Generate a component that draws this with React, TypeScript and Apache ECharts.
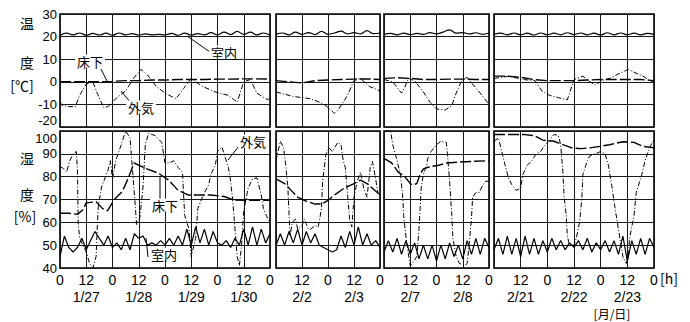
import React, { useEffect, useRef } from 'react';
import * as echarts from 'echarts';

const FONT = '"Noto Sans CJK JP", "Noto Sans", sans-serif';
const NUMFONT = '"Liberation Sans", Arial, sans-serif';

// ---- categories ----
const segDays = [
  ['1/27', '1/28', '1/29', '1/30'],
  ['2/2', '2/3'],
  ['2/7', '2/8'],
  ['2/21', '2/22', '2/23'],
];

// ---- temperature (°C) ----
// indoor, every 3 h
const tempIn1 = [20.5, 21.5, 20.8, 21.6, 20.6, 21.4, 20.7, 21.5, 20.6, 21.6, 20.8, 21.3, 20.7, 21.2, 20.8, 21.0, 20.8, 21.4, 20.6, 21.5, 20.7, 21.3, 20.8, 21.8, 20.8, 22.0, 20.9, 22.3, 21.0, 22.0, 20.8, 21.6, 20.6];
const tempIn2 = [21.0, 21.6, 20.8, 22.0, 21.0, 21.8, 20.9, 22.3, 21.0, 21.6, 22.4, 21.2, 21.8, 21.2, 22.6, 21.3, 21.6];
const tempIn3 = [21.0, 21.4, 20.8, 21.5, 20.9, 21.4, 21.0, 21.8, 21.2, 22.0, 23.0, 21.5, 21.8, 21.2, 21.7, 21.0, 21.6];
const tempIn4 = [21.0, 21.5, 20.8, 21.6, 20.8, 21.5, 20.7, 21.6, 20.8, 21.5, 20.8, 21.7, 20.9, 21.6, 20.8, 21.5, 20.7, 21.7, 20.8, 21.6, 20.8, 21.5, 20.8, 21.4, 20.9];
// underfloor, every 6 h
const tempFloor1 = [0, 0, 0, 0, 0.2, 0.5, 0.5, 0.8, 0.8, 1, 1, 1, 1.2, 1.2, 1.3, 1.3, 1.2];
const tempFloor2 = [0.5, 0, -0.5, 0.5, 0.8, 1, 1.2, 1.3, 1.0];
const tempFloor3 = [1.5, 1.8, 1.5, 1.0, 1.0, 1.2, 1.2, 1.0, 1.0];
const tempFloor4 = [2.5, 2.5, 2, 1, 0.5, 0.5, 0.5, 0.8, 1, 1, 1, 1, 0.5];
// outside, [hour, value]
const tempOut1 = [[0, -9], [1, -10.5], [4, -11], [7, -11], [9, -6], [12, -1], [15, 0], [17, -5], [20, -11.5], [22, -11], [24, -9], [26, -7], [30, -4], [34, 2], [37, 5.5], [40, 3], [44, -2], [48, -5], [53, -7.5], [56.5, -3], [60, 1.5], [65, -2], [71, -4.5], [77, -6], [81, -9], [84, 0], [87, 1], [90, -5], [95, -8], [96, -7]];
const tempOut2 = [[0, -4.5], [4, -5.5], [8, -6.5], [12, -7], [16, -7.5], [20, -9], [23, -10.5], [27, -14], [29, -12], [33, -6], [36, 0.5], [39, 1.5], [43, -2], [48, -4]];
const tempOut3 = [[0, 1], [4, 0], [8, -5], [9.5, -2.5], [11, 1.5], [14, 0.5], [18, -4.5], [21, -9], [24, -12], [28, -12.5], [31, -10.5], [33, -5], [35.5, 0.5], [38, 2], [40.5, -1], [44, -5], [48, -10]];
const tempOut4 = [[0, 1.5], [7, 2.5], [13, 1], [18.5, 0.5], [21.5, -4], [25, -6], [29, -7], [33, -8], [34, -5], [36, 1], [40, 2.5], [42.5, 0.5], [45.5, -1.5], [48.5, 0.5], [52, 1.5], [56, 3.5], [60.5, 5.5], [63.5, 4], [67, 2.5], [71, 0], [72, 0]];

// ---- humidity (%) ----
// indoor, every 2 h
const humIn1 = [45, 54, 49, 47, 49, 53, 48, 52, 56, 53, 50, 54, 49, 51, 48, 53, 48, 55, 53, 54, 50, 51, 50, 52, 50, 53, 50, 54, 50, 57, 50, 58, 51, 57, 50, 56, 51, 50, 52, 49, 53, 50, 57, 50, 58, 50, 57, 51, 55];
const humIn2 = [50, 55, 50, 56, 51, 57, 50, 56, 51, 55, 50, 49, 48, 47, 48, 54, 49, 56, 50, 58, 50, 55, 50, 52, 49];
const humIn3 = [47, 52, 47, 53, 46, 52, 46, 51, 44, 50, 44, 50, 43, 50, 44, 51, 45, 50, 44, 52, 46, 53, 46, 53, 49];
const humIn4 = [48, 53, 46, 54, 46, 53, 45, 54, 46, 53, 46, 52, 47, 53, 48, 52, 48, 51, 49, 52, 48, 53, 47, 51, 48, 52, 47, 52, 46, 54, 43, 52, 46, 53, 46, 53, 49];
// underfloor, [hour, value]
const humFloor1 = [[0, 64], [4, 64], [8, 63.5], [10.5, 65.5], [12, 68.5], [16.5, 69], [19.5, 66], [21.7, 65], [24.8, 70], [28.5, 73.5], [31.5, 80], [33.8, 86], [36, 85], [39, 83.7], [45, 81.5], [49.5, 78.6], [54, 74], [58.5, 72], [63, 72], [69, 72], [75, 71.3], [79.6, 69.8], [87, 69.6], [96, 69.6]];
const humFloor2 = [[0, 79], [4, 77], [7, 74], [10, 71], [13, 69.6], [18, 68], [21, 68], [24, 69.6], [27, 72], [31.5, 75], [36, 77], [39, 78.5], [42, 77], [46.5, 73.3], [48, 72]];
const humFloor3 = [[0, 88], [3.5, 86], [6.5, 82], [9.5, 80], [12, 77], [13, 76.3], [15, 77], [16.5, 81], [18, 83.4], [21, 84.4], [25, 85], [28.5, 86], [34.5, 86.4], [40.5, 86.7], [48, 87]];
const humFloor4 = [[0, 98.5], [7, 98.5], [13, 98.5], [18, 98], [22, 96], [27, 95.5], [31, 94], [35, 92.6], [39, 92.3], [43, 92.6], [48, 93.3], [52, 94], [58, 95.3], [63, 95], [67, 93.3], [72, 92.6]];
// outside, [hour, value]
const humOut1 = [[0, 84], [1, 84], [3, 82], [4.5, 87], [6, 90], [7.5, 91], [8, 82], [8.3, 60], [9, 53], [10.5, 50], [12, 47], [13.5, 42], [15, 40], [16.5, 45], [17, 57], [17.5, 67], [19, 75.5], [20, 78], [22, 83], [23, 87], [24, 79], [25.5, 87], [28, 94], [30, 100], [32, 97], [33, 85], [34.5, 66], [35, 59], [36.5, 62], [38, 76], [39, 94], [40.5, 99], [43.5, 98], [46.5, 95], [48, 86], [50, 86], [52, 87], [54, 84], [56, 82], [56.5, 72], [57, 63], [59, 57], [59.5, 51], [60, 45], [62, 53], [63, 66], [65.5, 72], [68, 76.5], [69, 81], [71, 85], [72, 91], [74, 93], [75, 90], [77, 84], [78, 78], [79, 69], [80, 57], [81, 45], [82, 41], [83, 50], [84, 65], [86, 75], [88, 79], [90, 79.5], [92, 72], [93, 66], [95, 61.5], [96, 60]];
const humOut2 = [[0, 87], [2, 95.5], [3.5, 92.6], [4.5, 85], [5.5, 75], [6, 64], [6.5, 54], [7.5, 60], [9, 61.5], [10, 57], [12, 58.5], [13, 61.5], [15, 57], [16, 57], [18, 58.5], [19.5, 58], [21, 66], [21.5, 77.8], [23, 89.6], [24.5, 92.6], [26, 91], [28.5, 95], [30, 94], [31, 87], [32, 84], [33, 72.6], [34, 61], [35, 58], [36, 71], [37.5, 78], [39, 82], [40.5, 75], [42, 71], [43.5, 84], [44.5, 86.7], [46, 79], [47, 73], [48, 72]];
const humOut3 = [[0, 100], [3, 100], [4, 94], [6, 87], [7.5, 81], [8.5, 72], [9, 63], [10, 54], [11, 47], [12, 41], [13, 42], [15, 45], [16, 57], [16.5, 66], [17, 75], [18, 81], [19.5, 85], [20, 88], [21.5, 91], [24, 94], [26, 95.5], [28.5, 95], [29, 90], [30, 78], [31, 63], [31.5, 53], [33, 45], [34.5, 42], [37, 41], [38, 42], [39, 51], [40, 62], [40.5, 71], [42, 73], [43.5, 73], [45, 76], [46.5, 78], [48, 78]];
const humOut4 = [[0, 95.5], [2, 97], [3.5, 91], [5, 85], [6.5, 79.5], [8, 76.5], [10, 74], [12, 75], [13, 81], [15, 85], [17, 87], [19, 90], [21, 91], [22, 92.6], [24.5, 95.5], [27, 98.5], [29, 98], [30, 94], [31, 82], [31.5, 72], [32.5, 63], [33, 54], [34, 50], [36, 50], [37, 53], [38.5, 60], [39.5, 70], [40, 81], [42, 87], [43, 89], [45.5, 90], [48, 91], [50, 90], [51.5, 85], [53, 76], [54.5, 66], [56, 57], [57, 51], [58, 45], [59.5, 42], [60.5, 45], [61, 53], [63, 63], [64, 73], [66.5, 81], [68, 87], [70, 92.6], [71.5, 95.5], [72, 96]];

const tempRange = [-20, 30];
const humRange = [40, 100];

const tempInAll = [tempIn1, tempIn2, tempIn3, tempIn4];
const tempFloorAll = [tempFloor1, tempFloor2, tempFloor3, tempFloor4];
const tempOutAll = [tempOut1, tempOut2, tempOut3, tempOut4];
const humInAll = [humIn1, humIn2, humIn3, humIn4];
const humFloorAll = [humFloor1, humFloor2, humFloor3, humFloor4];
const humOutAll = [humOut1, humOut2, humOut3, humOut4];

const stepped = (vals: number[], step: number) => vals.map((v, i) => [i * step, v]);

export default function App() {
  const ref = useRef<HTMLDivElement>(null);
  useEffect(() => {
    if (!ref.current) return;
    const chart = echarts.init(ref.current, null, { renderer: 'svg' });

    const segLeft = [60, 276, 384, 494];
    const segWidth = [210, 104, 105, 160];
    const topY = 14, topH = 113, botY = 131, botH = 137;

    const grids: any[] = [];
    const xAxes: any[] = [];
    const yAxes: any[] = [];
    const series: any[] = [];
    const grid = '#1a1a1a';

    const inStyle = { color: '#000', width: 1.2, type: 'solid' };
    const floorStyle = { color: '#000', width: 1.4, type: [11, 3] };
    const outStyle = { color: '#000', width: 1, type: [5, 2, 1, 2] };

    for (let panel = 0; panel < 2; panel++) {
      for (let s = 0; s < 4; s++) {
        const gi = panel * 4 + s;
        const hours = segDays[s].length * 24;
        grids.push({
          left: segLeft[s], width: segWidth[s],
          top: panel === 0 ? topY : botY, height: panel === 0 ? topH : botH,
          show: true, borderColor: '#000', borderWidth: 1.6, backgroundColor: 'transparent',
        });
        xAxes.push({
          type: 'value', gridIndex: gi, min: 0, max: hours, interval: 12,
          axisLine: { show: false }, axisTick: { show: false },
          splitLine: { show: true, lineStyle: { color: grid, width: 1 } },
          axisLabel: panel === 1 ? {
            show: true, margin: 3, color: '#000', fontFamily: NUMFONT, fontSize: 14, lineHeight: 17,
            showMinLabel: s === 0, showMaxLabel: true,
            formatter: (v: number) => {
              if (v % 24 === 12) return '12\n' + segDays[s][Math.floor(v / 24)];
              return '0';
            },
          } : { show: false },
        });
        const rng = panel === 0 ? tempRange : humRange;
        yAxes.push({
          type: 'value', gridIndex: gi, min: rng[0], max: rng[1], interval: 10,
          axisLine: { show: false }, axisTick: { show: false },
          splitLine: { show: true, lineStyle: { color: grid, width: 1 } },
          axisLabel: s === 0 ? {
            show: true, margin: 3, color: '#000', fontFamily: NUMFONT, fontSize: 13, lineHeight: 13,
            // the two labels where the panels meet are drawn as graphics below, nudged apart
            formatter: (v: number) => (panel === 0 && v === rng[0]) || (panel === 1 && v === rng[1]) ? '' : String(v),
          } : { show: false },
        });
        const common = { type: 'line', xAxisIndex: gi, yAxisIndex: gi, symbol: 'none', showSymbol: false, silent: true };
        if (panel === 0) {
          series.push({ ...common, data: stepped(tempInAll[s], 3), smooth: 0.4, lineStyle: inStyle });
          series.push({ ...common, data: stepped(tempFloorAll[s], 6), lineStyle: floorStyle });
          series.push({ ...common, data: tempOutAll[s], lineStyle: outStyle });
        } else {
          series.push({ ...common, data: stepped(humInAll[s], 2), lineStyle: inStyle });
          series.push({ ...common, data: humFloorAll[s], lineStyle: floorStyle });
          series.push({ ...common, data: humOutAll[s], lineStyle: outStyle });
        }
      }
    }

    const txt = (text: string, x: number, y: number, size = 14, bg = false, align = 'center', family = FONT) => ({
      type: 'text', x, y, z: 100,
      style: {
        text, fill: '#000', font: `${size}px ${family}`, lineHeight: size,
        align, verticalAlign: 'middle', textAlign: align, textVerticalAlign: 'middle',
        backgroundColor: bg ? '#fff' : undefined, padding: bg ? [0, 2] : undefined,
      },
    });
    const ln = (x1: number, y1: number, x2: number, y2: number) => ({
      type: 'line', z: 99, shape: { x1, y1, x2, y2 }, style: { stroke: '#000', lineWidth: 1 },
    });

    const elements = [
      txt(String(tempRange[0]), 57, 120.5, 13, false, 'right', NUMFONT),
      txt(String(humRange[1]), 57, 138, 13, false, 'right', NUMFONT),
      txt('温', 27, 23), txt('度', 27, 62), txt('[℃]', 22, 85),
      txt('湿', 27, 158), txt('度', 27, 194), txt('[%]', 25, 216),
      txt('[h]', 669, 278), txt('[月/日]', 612, 313, 12),
      ln(187, 36, 210, 52), txt('室内', 224, 52, 13, true),
      ln(101, 69, 107, 81), txt('床下', 90, 61, 13, true),
      ln(121, 91, 131, 103), txt('外気', 141, 107, 13, true),
      ln(228, 160, 239, 146), txt('外気', 253, 141, 13, true),
      ln(160, 199, 160, 176), txt('床下', 165, 205, 13, true),
      ln(148, 257, 146, 238), txt('室内', 164, 254, 13, true),
    ];

    chart.setOption({
      animation: false,
      backgroundColor: '#fff',
      grid: grids,
      xAxis: xAxes,
      yAxis: yAxes,
      series,
      graphic: { elements },
    });
    return () => chart.dispose();
  }, []);
  return <div ref={ref} style={{ position: 'fixed', left: 0, top: 0, width: 690, height: 322, background: '#fff' }} />;
}
